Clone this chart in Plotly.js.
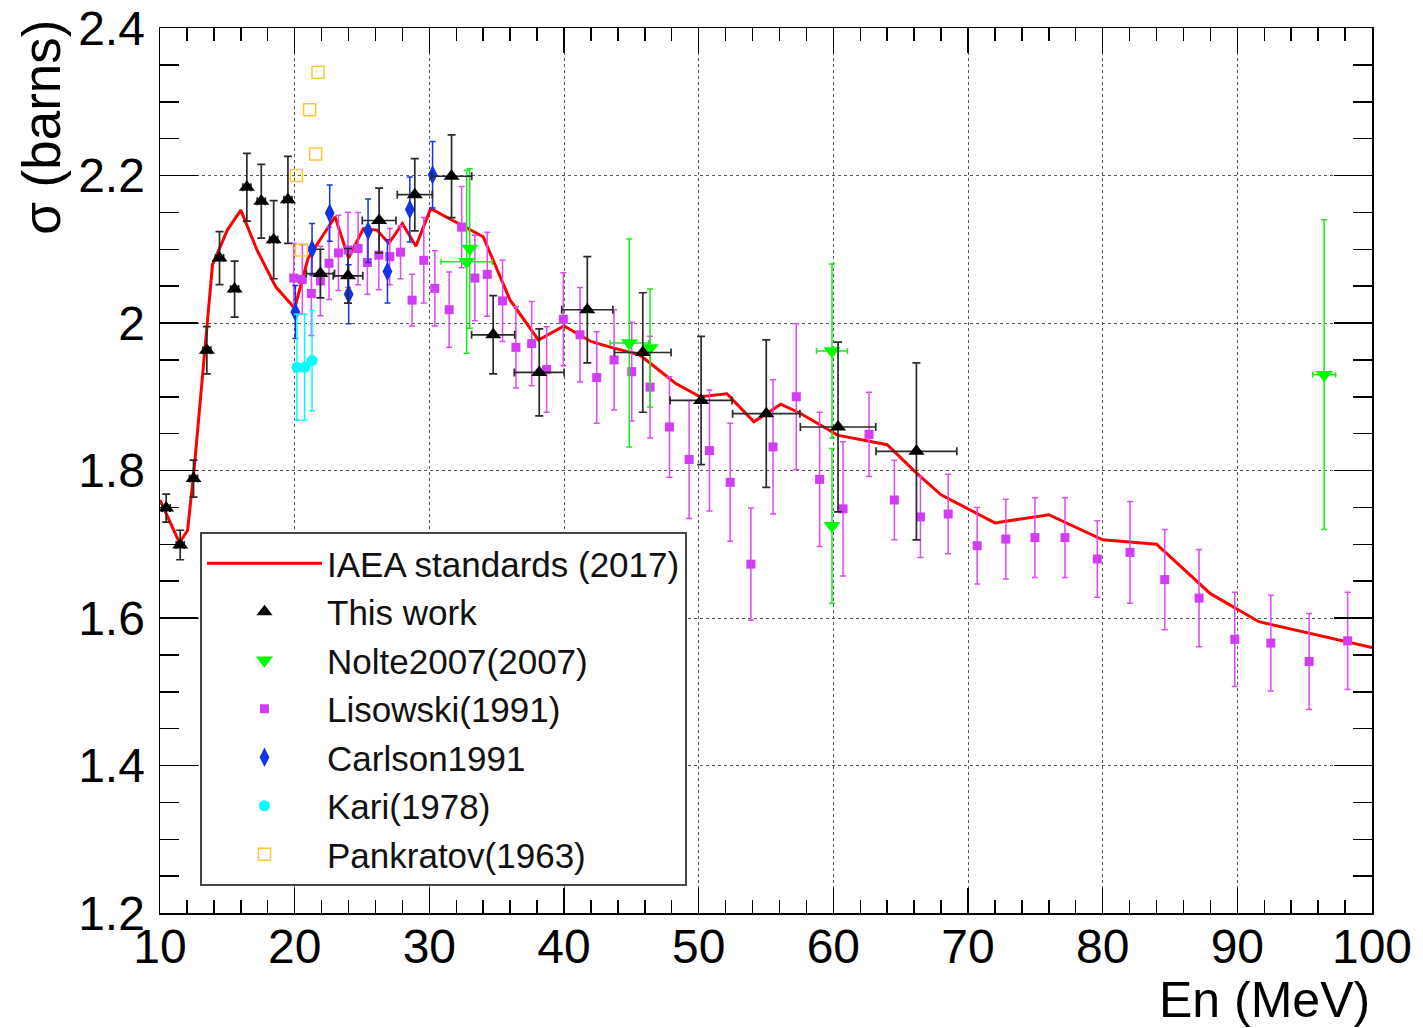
<!DOCTYPE html>
<html>
<head>
<meta charset="utf-8">
<script src="https://cdn.plot.ly/plotly-3.0.1.min.js"></script>
<style>html,body{margin:0;padding:0;background:#fff;}#chart{width:1423px;height:1028px;}</style>
</head>
<body>
<div id="chart"></div>
<script>
// IAEA standards (2017) evaluated curve
const iaeaX = [10, 11.45, 12.05, 12.55, 13.9, 15.0, 16.0, 17.2, 18.6, 20.0, 21.0, 23.0, 24.0, 25.1, 26.1, 27.0, 28.0, 29.0, 30.1, 34.0, 36.0, 38.1, 40.0, 42.0, 43.7, 45.6, 48.3, 50.1, 52.1, 54.1, 56.1, 57.5, 59.0, 60.3, 64.0, 66.2, 68.0, 72.0, 76.0, 80.0, 84.0, 88.0, 91.6, 100];
const iaeaY = [1.760, 1.702, 1.719, 1.805, 2.079, 2.126, 2.153, 2.099, 2.049, 2.020, 2.088, 2.144, 2.088, 2.128, 2.126, 2.108, 2.135, 2.104, 2.155, 2.117, 2.031, 1.977, 1.996, 1.975, 1.966, 1.957, 1.918, 1.900, 1.904, 1.866, 1.890, 1.878, 1.862, 1.848, 1.835, 1.796, 1.767, 1.729, 1.740, 1.706, 1.700, 1.633, 1.595, 1.560];

// This work
const thisX    = [10.46, 11.5, 12.49, 13.48, 14.42, 15.54, 16.45, 17.52, 18.44, 19.5, 21.91, 23.96, 26.27, 28.92, 31.65, 34.74, 38.16, 41.73, 45.85, 50.18, 55.02, 60.35, 66.17];
const thisY    = [1.749, 1.699, 1.789, 1.963, 2.088, 2.046, 2.184, 2.165, 2.113, 2.167, 2.067, 2.064, 2.139, 2.174, 2.199, 1.984, 1.933, 2.018, 1.960, 1.895, 1.877, 1.859, 1.826];
const thisXerr = [0.3, 0.3, 0.3, 0.3, 0.3, 0.3, 0.3, 0.3, 0.3, 0.3, 1.05, 1.1, 1.25, 1.3, 1.5, 1.6, 1.85, 1.9, 2.1, 2.3, 2.5, 2.8, 3.0];
const thisYerr = [0.019, 0.020, 0.025, 0.032, 0.036, 0.038, 0.046, 0.050, 0.053, 0.059, 0.033, 0.037, 0.044, 0.049, 0.056, 0.053, 0.059, 0.072, 0.081, 0.087, 0.100, 0.115, 0.120];

// Nolte2007(2007)
const nolteX    = [33.0, 32.77, 44.85, 46.39, 59.9, 59.9, 96.45];
const nolteY    = [2.101, 2.083, 1.973, 1.966, 1.962, 1.725, 1.930];
const nolteXerr = [0, 1.9, 1.43, 0, 1.15, 0, 0.85];
const nolteYerr = [0.108, 0.124, 0.141, 0.080, 0.118, 0.105, 0.210];

// Lisowski(1991)
const lisX = [19.93, 20.57, 21.24, 21.91, 22.55, 23.25, 23.96, 24.71, 25.4, 26.25, 27.06, 27.86, 28.72, 29.59, 30.41, 31.47, 32.4, 33.38, 34.3, 35.44, 36.43, 37.6, 38.71, 39.95, 41.19, 42.43, 43.72, 45.03, 46.39, 47.83, 49.29, 50.8, 52.34, 53.88, 55.52, 57.25, 58.98, 60.72, 62.65, 64.53, 66.47, 68.53, 70.68, 72.81, 74.97, 77.2, 79.6, 82.03, 84.61, 87.16, 89.81, 92.49, 95.33, 98.19];
const lisY = [2.061, 2.059, 2.040, 2.057, 2.081, 2.095, 2.099, 2.101, 2.082, 2.092, 2.090, 2.096, 2.031, 2.085, 2.047, 2.018, 2.130, 2.061, 2.066, 2.030, 1.967, 1.972, 1.937, 2.005, 1.984, 1.926, 1.950, 1.934, 1.913, 1.859, 1.815, 1.827, 1.784, 1.673, 1.832, 1.900, 1.788, 1.748, 1.849, 1.760, 1.737, 1.741, 1.698, 1.707, 1.709, 1.709, 1.680, 1.689, 1.652, 1.627, 1.571, 1.566, 1.541, 1.569];
const lisErr = [0.047, 0.047, 0.057, 0.047, 0.049, 0.051, 0.051, 0.049, 0.043, 0.047, 0.038, 0.036, 0.035, 0.058, 0.051, 0.051, 0.055, 0.058, 0.057, 0.055, 0.055, 0.057, 0.058, 0.063, 0.064, 0.062, 0.068, 0.067, 0.069, 0.068, 0.080, 0.082, 0.080, 0.076, 0.091, 0.099, 0.091, 0.091, 0.057, 0.054, 0.055, 0.054, 0.052, 0.054, 0.054, 0.054, 0.052, 0.069, 0.068, 0.066, 0.064, 0.065, 0.065, 0.066];

// Carlson1991
const carX = [20.05, 21.29, 22.6, 24.01, 25.45, 26.89, 28.55, 30.24];
const carY = [2.015, 2.100, 2.149, 2.039, 2.125, 2.070, 2.154, 2.201];
const carErr = [0.036, 0.035, 0.038, 0.040, 0.043, 0.043, 0.044, 0.045];

// Kari(1978)
const kariX = [20.17, 20.74, 21.29];
const kariY = [1.940, 1.940, 1.949];
const kariErr = [0.072, 0.072, 0.068];

// Pankratov(1963)
const pankX = [20.13, 20.5, 21.11, 21.56, 21.73];
const pankY = [2.200, 2.099, 2.289, 2.229, 2.340];

// Axis ticks
const xTickVals = [10, 20, 30, 40, 50, 60, 70, 80, 90, 100];
const xTickText = ['10', '20', '30', '40', '50', '60', '70', '80', '90', '100'];
const yTickVals = [1.2, 1.4, 1.6, 1.8, 2.0, 2.2, 2.4];
const yTickText = ['1.2', '1.4', '1.6', '1.8', '2', '2.2', '2.4'];

const FONT = 'Liberation Sans, Arial, Helvetica, sans-serif';

const traces = [
  {
    name: 'IAEA standards (2017)', x: iaeaX, y: iaeaY, mode: 'lines', type: 'scatter',
    line: {color: '#ff0000', width: 3}, legendrank: 1, legendgroup: 'g1'
  },
  {
    name: 'Lisowski(1991)', x: lisX, y: lisY, mode: 'markers', type: 'scatter',
    marker: {symbol: 'square', size: 9, color: '#d23cf5'},
    error_y: {type: 'data', array: lisErr, visible: true, color: '#e04af5', thickness: 1.5, width: 3},
    legendrank: 4, legendgroup: 'g4'
  },
  {
    name: 'Carlson1991', x: carX, y: carY, mode: 'markers', type: 'scatter',
    marker: {symbol: 'diamond-tall', size: 14, color: '#1433e6'},
    error_y: {type: 'data', array: carErr, visible: true, color: '#1433e6', thickness: 1.5, width: 3},
    legendrank: 5, legendgroup: 'g5'
  },
  {
    name: 'Kari(1978)', x: kariX, y: kariY, mode: 'markers', type: 'scatter',
    marker: {symbol: 'circle', size: 11, color: '#00ffff'},
    error_y: {type: 'data', array: kariErr, visible: true, color: '#00ffff', thickness: 1.5, width: 3},
    legendrank: 6, legendgroup: 'g6'
  },
  {
    name: 'Pankratov(1963)', x: pankX, y: pankY, mode: 'markers', type: 'scatter',
    marker: {symbol: 'square-open', size: 12, color: '#ffc830', line: {width: 1.5, color: '#ffc830'}},
    legendrank: 7, legendgroup: 'g7'
  },
  {
    name: 'Nolte2007(2007)', x: nolteX, y: nolteY, mode: 'markers', type: 'scatter',
    marker: {symbol: 'triangle-down', size: 15, color: '#00ff00'},
    error_y: {type: 'data', array: nolteYerr, visible: true, color: '#1ee81e', thickness: 1.5, width: 3},
    error_x: {type: 'data', array: nolteXerr, visible: true, color: '#1ee81e', thickness: 1.5, width: 3},
    legendrank: 3, legendgroup: 'g3'
  },
  {
    name: 'This work', x: thisX, y: thisY, mode: 'markers', type: 'scatter',
    marker: {symbol: 'triangle-up', size: 14, color: '#000000'},
    error_y: {type: 'data', array: thisYerr, visible: true, color: '#2a2a2a', thickness: 1.7, width: 4},
    error_x: {type: 'data', array: thisXerr, visible: true, color: '#2a2a2a', thickness: 1.7, width: 4},
    legendrank: 2, legendgroup: 'g2'
  }
];

const axisCommon = {
  ticks: 'inside', mirror: 'allticks', showline: true, linecolor: '#000', linewidth: 1.5,
  tickcolor: '#000', tickwidth: 1.5, showgrid: true, gridcolor: '#555', griddash: 'dot', gridwidth: 1,
  zeroline: false, tickfont: {family: FONT, size: 48, color: '#000'}, fixedrange: true
};

const layout = {
  width: 1423, height: 1028,
  margin: {l: 160, r: 51, t: 28, b: 115, pad: 0},
  paper_bgcolor: '#ffffff', plot_bgcolor: '#ffffff',
  font: {family: FONT, color: '#000'},
  showlegend: true,
  legend: {
    x: 0.033, y: 0.4305, xanchor: 'left', yanchor: 'top',
    bgcolor: '#ffffff', bordercolor: '#444', borderwidth: 2,
    font: {family: FONT, size: 35, color: '#111'},
    itemwidth: 115, tracegroupgap: 7, traceorder: 'normal'
  },
  xaxis: Object.assign({}, axisCommon, {
    range: [10, 100], tickmode: 'array', tickvals: xTickVals, ticktext: xTickText, ticklen: 25,
    ticklabelstandoff: -9,
    minor: {ticks: 'inside', tickmode: 'linear', tick0: 10, dtick: 2, ticklen: 13, tickcolor: '#000', tickwidth: 1.5, showgrid: false}
  }),
  yaxis: Object.assign({}, axisCommon, {
    range: [1.2, 2.4], tickmode: 'array', tickvals: yTickVals, ticktext: yTickText, ticklen: 38,
    ticklabelstandoff: 4,
    minor: {ticks: 'inside', tickmode: 'linear', tick0: 1.2, dtick: 0.05, ticklen: 19, tickcolor: '#000', tickwidth: 1.5, showgrid: false}
  }),
  annotations: [
    {text: 'En (MeV)', xref: 'paper', yref: 'paper', x: 1, y: -0.098, xanchor: 'right', yanchor: 'middle',
     showarrow: false, font: {family: FONT, size: 50, color: '#000'}},
    {text: 'σ (barns)', xref: 'paper', yref: 'paper', x: -0.0974, y: 1.012, xanchor: 'center', yanchor: 'top',
     textangle: -90, showarrow: false, font: {family: FONT, size: 53, color: '#000'}}
  ]
};

Plotly.newPlot('chart', traces, layout, {displayModeBar: false, staticPlot: true});
</script>
</body>
</html>
